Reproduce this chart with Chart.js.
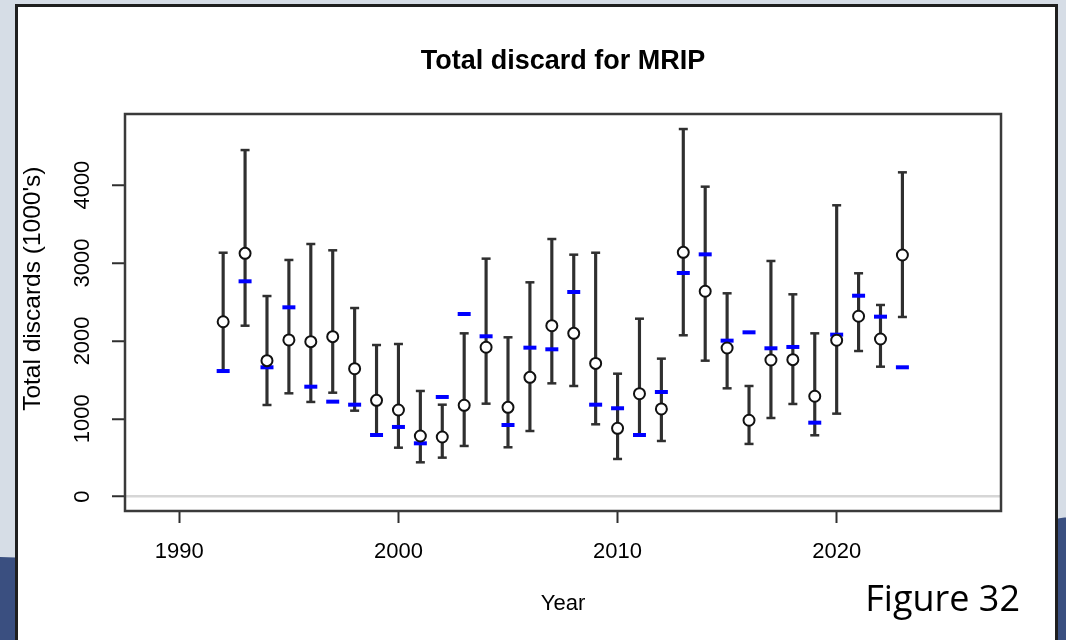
<!DOCTYPE html>
<html>
<head>
<meta charset="utf-8">
<title>Total discard for MRIP</title>
<script src="https://cdn.jsdelivr.net/npm/chart.js@4.4.1/dist/chart.umd.min.js"></script>
<style>
  html, body { margin: 0; padding: 0; overflow: hidden; }
  body { width: 1066px; height: 640px; background: #d6dde6; position: relative; }
  .band-left { position: absolute; left: 0; top: 557px; width: 40px; height: 120px; background: #3a4f80; border-top-right-radius: 40px 6px; }
  .band-right { position: absolute; left: 1046px; top: 517px; width: 40px; height: 140px; background: #3a4f80; border-top-left-radius: 30px 8px; }
  .frame { position: absolute; left: 15px; top: 4px; width: 1037px; height: 700px; background: #fff; border: 3px solid #1f1f1f; }
  .chart { position: absolute; left: 0; top: 0; width: 1066px; height: 640px; }
  .fig { position: absolute; right: 46px; top: 580px; font: 36px/36px "Open Sans", sans-serif; color: #000; }
</style>
</head>
<body>
<div class="band-left"></div>
<div class="band-right"></div>
<div class="frame"></div>
<div class="chart"><canvas id="discards" width="1066" height="640"></canvas></div>
<div class="fig">Figure 32</div>
<script>
// values (thousands of fish)
const years = [1992, 1993, 1994, 1995, 1996, 1997, 1998, 1999, 2000, 2001, 2002,
  2003, 2004, 2005, 2006, 2007, 2008, 2009, 2010, 2011, 2012, 2013, 2014, 2015,
  2016, 2017, 2018, 2019, 2020, 2021, 2022, 2023];
const estimate = [2246, 3124, 1746, 2012, 1990, 2054, 1643, 1237, 1113, 779, 766,
  1173, 1918, 1147, 1532, 2195, 2097, 1711, 878, 1322, 1126, 3137, 2637, 1909,
  981, 1755, 1759, 1289, 2008, 2316, 2024, 3103];
const upper = [3132, 4450, 2576, 3039, 3244, 3163, 2422, 1947, 1960, 1357, 1181,
  2097, 3056, 2046, 2752, 3308, 3107, 3132, 1579, 2285, 1772, 4720, 3980, 2611,
  1421, 3026, 2598, 2097, 3741, 2868, 2461, 4164];
const lower = [1613, 2195, 1177, 1327, 1216, 1335, 1104, 792, 629, 441, 501,
  651, 1194, 634, 843, 1455, 1421, 929, 484, 783, 715, 2072, 1746, 1391,
  677, 1010, 1190, 788, 1066, 1870, 1669, 2307];
const otherEst = [1613, 2765, 1661, 2431, 1412, 1220, 1181, 792, 895, 685, 1280,
  2345, 2059, 920, 1913, 1892, 2628, 1181, 1135, 792, 1344, 2872, 3111, 2003,
  2110, 1905, 1922, 950, 2080, 2580, 2311, 1661];
const xTicks = [1990, 2000, 2010, 2020];
const yTicks = [0, 1000, 2000, 3000, 4000];

const ink = "#2f2f2f";
const labelFont = { family: "'Liberation Sans', Arial, sans-serif", size: 22 };

// box around the plotting region, R style
const plotBox = {
  id: "plotBox",
  beforeDatasetsDraw(chart) {
    const { ctx, chartArea: a } = chart;
    ctx.save();
    ctx.strokeStyle = "#3a3a3a";
    ctx.lineWidth = 2.5;
    ctx.strokeRect(a.left, a.top, a.right - a.left, a.bottom - a.top);
    ctx.restore();
  },
};

const caps = [];
years.forEach((x, i) => {
  caps.push({ x: x, y: lower[i] });
  caps.push({ x: x, y: upper[i] });
});

new Chart(document.getElementById("discards"), {
  type: "scatter",
  data: {
    datasets: [
      {
        label: "MRIP estimate",
        data: years.map((x, i) => ({ x: x, y: estimate[i] })),
        pointStyle: "circle",
        pointRadius: 5.5,
        borderWidth: 2,
        borderColor: "#111",
        backgroundColor: "#fff",
        order: 0,
      },
      {
        label: "Other estimate",
        data: years.map((x, i) => ({ x: x, y: otherEst[i] })),
        pointStyle: "line",
        pointRadius: 6.5,
        borderWidth: 4,
        borderColor: "#0000ff",
        backgroundColor: "#0000ff",
        order: 1,
      },
      {
        label: "CI caps",
        data: caps,
        pointStyle: "line",
        pointRadius: 4.5,
        borderWidth: 2.5,
        borderColor: ink,
        order: 2,
      },
      {
        type: "bar",
        label: "CI",
        data: years.map((x, i) => ({ x: x, y: [lower[i], upper[i]] })),
        backgroundColor: ink,
        borderWidth: 0,
        barThickness: 2.5,
        grouped: false,
        order: 3,
      },
    ],
  },
  options: {
    responsive: false,
    animation: false,
    events: [],
    devicePixelRatio: 1,
    layout: { padding: { left: 0, top: 0, right: 65, bottom: 0 } },
    plugins: {
      legend: { display: false },
      tooltip: { enabled: false },
      title: {
        display: true,
        fullSize: false,
        text: "Total discard for MRIP",
        color: "#000",
        font: { family: "'Liberation Sans', Arial, sans-serif", size: 27, weight: "bold" },
        padding: { top: 45, bottom: 36.6 },
      },
    },
    scales: {
      x: {
        type: "linear",
        min: 1987.52,
        max: 2027.5,
        offset: false,
        afterFit: (s) => { s.height = 129; },
        afterBuildTicks: (s) => { s.ticks = xTicks.map((v) => ({ value: v })); },
        border: { display: false },
        grid: {
          offset: false,
          drawOnChartArea: false,
          tickLength: 12,
          tickColor: ink,
          tickWidth: 2,
        },
        ticks: {
          color: "#000",
          font: labelFont,
          padding: 15.5,
          maxRotation: 0,
          callback: (v) => String(v),
        },
        title: {
          display: true,
          text: "Year",
          color: "#000",
          font: labelFont,
          padding: { top: 0, bottom: 22.8 },
        },
      },
      y: {
        type: "linear",
        min: -184,
        max: 4913,
        afterFit: (s) => { s.width = 125; },
        afterBuildTicks: (s) => { s.ticks = yTicks.map((v) => ({ value: v })); },
        border: { display: false },
        grid: {
          color: (c) => (c.tick && c.tick.value === 0 ? "#d6d6d6" : "rgba(0,0,0,0)"),
          lineWidth: 2.5,
          tickLength: 13,
          tickColor: ink,
          tickWidth: 2,
        },
        ticks: {
          color: "#000",
          font: labelFont,
          padding: 4.5,
          minRotation: 90,
          maxRotation: 90,
          crossAlign: "center",
          callback: (v) => String(v),
        },
        title: {
          display: true,
          // leading spaces nudge the label upward, as in the original figure
          text: "\u00a0\u00a0\u00a0\u00a0\u00a0\u00a0\u00a0Total discards (1000's)",
          color: "#000",
          font: { family: "'Liberation Sans', Arial, sans-serif", size: 24.5 },
          padding: { top: 18.8, bottom: 0 },
        },
      },
    },
  },
  plugins: [plotBox],
});
</script>
</body>
</html>
